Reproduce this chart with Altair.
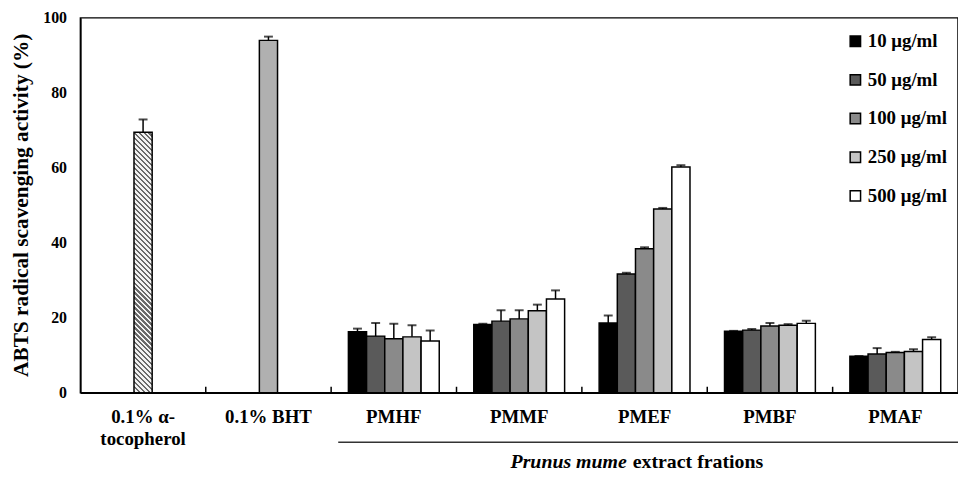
import altair as alt
import pandas as pd

# ---------------- data ----------------
categories = ["0.1% α-tocopherol", "0.1% BHT", "PMHF", "PMMF", "PMEF", "PMBF", "PMAF"]
concentrations = ["10 μg/ml", "50 μg/ml", "100 μg/ml", "250 μg/ml", "500 μg/ml"]

control_names = ["0.1% α-tocopherol", "0.1% BHT"]
control_values = [69.5, 94.0]
control_errors = [3.4, 1.0]

fraction_names = ["PMHF", "PMMF", "PMEF", "PMBF", "PMAF"]
pmhf = [16.3, 15.1, 14.4, 14.9, 13.8]
pmhf_err = [0.8, 3.5, 4.0, 3.1, 2.8]
pmmf = [18.2, 19.1, 19.7, 21.9, 25.0]
pmmf_err = [0.2, 2.9, 2.3, 1.6, 2.3]
pmef = [18.6, 31.7, 38.4, 49.0, 60.2]
pmef_err = [2.0, 0.3, 0.4, 0.3, 0.5]
pmbf = [16.4, 16.7, 17.8, 18.0, 18.5]
pmbf_err = [0.1, 0.3, 0.8, 0.3, 0.7]
pmaf = [9.7, 10.3, 10.7, 11.0, 14.2]
pmaf_err = [0.1, 1.6, 0.2, 0.6, 0.6]

y_ticks = [0, 20, 40, 60, 80, 100]
y_title = "ABTS radical scavenging activity (%)"
x_title_parts = ["Prunus mume", "extract frations"]

# ---------------- tables ----------------
frac_vals = [pmhf, pmmf, pmef, pmbf, pmaf]
frac_errs = [pmhf_err, pmmf_err, pmef_err, pmbf_err, pmaf_err]
rows = []
for name, vals, errs in zip(fraction_names, frac_vals, frac_errs):
    for conc, v, e in zip(concentrations, vals, errs):
        rows.append({"cat": name, "conc": conc, "value": v, "top": v + e})
frac_df = pd.DataFrame(rows)

ctrl_df = pd.DataFrame({
    "cat": control_names,
    "conc": [concentrations[2]] * len(control_names),
    "value": control_values,
    "top": [v + e for v, e in zip(control_values, control_errors)],
})
all_df = pd.concat([ctrl_df, frac_df], ignore_index=True)

FONT = "Liberation Serif"
W, H = 885, 378
fills = ["#000000", "#5a5a5a", "#8a8a8a", "#c4c4c4", "#ffffff"]

# diagonal hatch gradient for the alpha-tocopherol bar
bar_w = W / len(categories) / 6.9
bar_h = control_values[0] * H / 100.0
r = bar_w / bar_h
k = (1 + r) / (1 + r * r)
n = int(round((bar_w + bar_h) / 5.0))
stops = []
for i in range(n):
    a, b, c = i / n, (i + 0.45) / n, (i + 1) / n
    stops += [
        {"offset": a, "color": "#6a6a6a"},
        {"offset": b, "color": "#6a6a6a"},
        {"offset": b, "color": "#f2f2f2"},
        {"offset": c, "color": "#f2f2f2"},
    ]
hatch = {"gradient": "linear", "x1": 0, "y1": 1, "x2": k * r, "y2": 1 - k, "stops": stops}

x_scale = alt.Scale(domain=categories, paddingInner=0, paddingOuter=0)
xo_scale = alt.Scale(domain=concentrations, paddingInner=0, paddingOuter=0.95)
y_scale = alt.Scale(domain=[0, 100], nice=False)

X_axis = alt.X(
    "cat:N", scale=x_scale, title=None,
    axis=alt.Axis(
        labelExpr="datum.label == '0.1% α-tocopherol' ? ['0.1% α-', 'tocopherol'] : datum.label",
    ),
)
X = alt.X("cat:N", scale=x_scale, title=None)
XO = alt.XOffset("conc:N", scale=xo_scale)
Y_axis = alt.Y("value:Q", scale=y_scale, title=None, axis=alt.Axis(values=y_ticks))

bars = alt.Chart(frac_df).mark_bar(stroke="black", strokeWidth=1.5).encode(
    x=X_axis,
    xOffset=XO,
    y=Y_axis,
    fill=alt.Fill(
        "conc:N",
        scale=alt.Scale(domain=concentrations, range=fills),
        legend=alt.Legend(
            title=None, orient="none", legendX=772, legendY=14,
            symbolType="square", symbolSize=110, symbolStrokeColor="black",
            symbolStrokeWidth=1.5, symbolOpacity=1,
            labelFont=FONT, labelFontSize=19, labelFontWeight="bold",
            labelColor="black", rowPadding=19, labelOffset=3,
        ),
    ),
)

toco = alt.Chart(ctrl_df).transform_filter(
    alt.datum.cat == control_names[0]
).mark_bar(stroke="black", strokeWidth=1.5, fill=hatch).encode(
    x=X, xOffset=XO, y=alt.Y("value:Q", scale=y_scale, title=None)
)
bht = alt.Chart(ctrl_df).transform_filter(
    alt.datum.cat == control_names[1]
).mark_bar(stroke="black", strokeWidth=1.5, fill="#b0b0b0").encode(
    x=X, xOffset=XO, y=alt.Y("value:Q", scale=y_scale, title=None)
)

err = alt.Chart(all_df).mark_rule(color="black", strokeWidth=1.5).encode(
    x=X, xOffset=XO, y=alt.Y("value:Q", scale=y_scale, title=None), y2="top:Q"
)
caps = alt.Chart(all_df).mark_tick(color="black", thickness=2, size=9).encode(
    x=X, xOffset=XO, y=alt.Y("top:Q", scale=y_scale, title=None)
)

inner_ticks = alt.Chart(pd.DataFrame({"cat": categories[1:]})).mark_rule(
    color="black", strokeWidth=1.5
).encode(
    x=alt.X("cat:N", scale=x_scale, bandPosition=0, title=None),
    y=alt.value(H), y2=alt.value(H - 6),
)

bracket = alt.Chart(pd.DataFrame({"a": [0]})).mark_rule(
    color="#333333", strokeWidth=1.5
).encode(x=alt.value(260), x2=alt.value(W), y=alt.value(428))

y_title_mark = alt.Chart(pd.DataFrame({"t": [y_title]})).mark_text(
    font=FONT, fontSize=21.5, fontWeight="bold", angle=270,
    align="center", baseline="middle", color="black",
).encode(text="t:N", x=alt.value(-59), y=alt.value(H / 2))

title_it = alt.Chart(pd.DataFrame({"t": [x_title_parts[0]]})).mark_text(
    font=FONT, fontSize=20, fontWeight="bold", fontStyle="italic",
    align="right", baseline="middle", color="black",
).encode(text="t:N", x=alt.value(551), y=alt.value(448))
title_rest = alt.Chart(pd.DataFrame({"t": [x_title_parts[1]]})).mark_text(
    font=FONT, fontSize=20, fontWeight="bold",
    align="left", baseline="middle", color="black",
).encode(text="t:N", x=alt.value(557), y=alt.value(448))

chart = alt.layer(
    bars, toco, bht, err, caps, inner_ticks, bracket, y_title_mark, title_it, title_rest
).properties(
    width=W, height=H,
    padding={"left": 73, "top": 8, "right": 0, "bottom": 80},
    autosize=alt.AutoSizeParams(type="none"),
).configure_view(
    stroke="black", strokeWidth=1.5
).configure_axis(
    grid=False, ticks=False, domainColor="black", domainWidth=1.5,
    labelFont=FONT, labelFontWeight="bold", labelColor="black",
).configure_axisX(
    labelFontSize=19, labelAngle=0, labelPadding=15, labelLineHeight=22,
    labelBaseline="top",
).configure_axisY(
    labelFontSize=16, labelPadding=14,
)

chart.save("out.html", embed_options={"renderer": "svg", "actions": False})
